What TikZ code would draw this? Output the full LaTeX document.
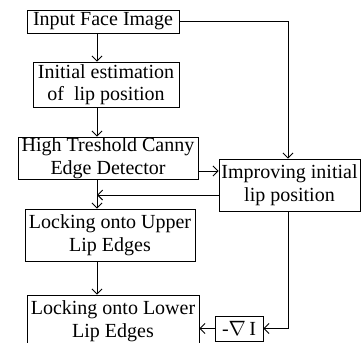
\documentclass[tikz,border=0pt]{standalone}
\usepackage{fontspec}
\setmainfont{Liberation Serif}
\usepackage{tikz}
\usetikzlibrary{ arrows.meta, calc, positioning }
\tikzset{
>={Straight Barb[length=5pt,width=10pt]}, % open v-shaped arrow heads
every node/.style={inner sep=0pt},
block/.style={draw, align=center, font=\fontsize{20}{22.5}\selectfont}, % the boxes of the flow
flow/.style={->}, % connectors between boxes
}

\begin{document}
\begin{tikzpicture}[x=1pt,y=-1pt,line width=0.9pt]%pixel-like units, y grows downwards
  \useasboundingbox (0,0) rectangle (362,343);

  \node[block, minimum width=152, minimum height=23] (input) at (103,21.5) {Input Face Image};
  \node[block, minimum width=146, minimum height=45] (init) at (106,84.5) {Initial estimation\\of\ \ lip position};
  \node[block, minimum width=180, minimum height=42] (canny) at (108,158) {High Treshold Canny\\Edge Detector};
  \node[block, minimum width=141, minimum height=52] (improve) at (289.5,185) {Improving initial\\lip position};
  \node[block, minimum width=170, minimum height=52] (upper) at (110,235) {Locking onto Upper\\Lip Edges};
  \node[block, minimum width=172, minimum height=52] (lower) at (113,321) {Locking onto Lower\\Lip Edges};
  \node[block, minimum width=48, minimum height=25] (grad) at (239,328.5) {-$\nabla$\,I};

  % columns and rows the connectors run along
  \coordinate (left) at (97,0);
  \coordinate (right) at (288,0);
  \coordinate (edges) at (0,171);
  \coordinate (back) at (0,195);

  \path[flow]
  (left |- input.south) edge (left |- init.north)
  (left |- init.south) edge (left |- canny.north)
  (left |- canny.south) edge (left |- upper.north)
  (left |- upper.south) edge (left |- lower.north)
  (canny.east |- edges) edge (improve.west |- edges)
  (improve.west |- back) edge (left |- back)
  (grad.west) edge (grad.west -| lower.east);

  \draw[flow] (input.east) -| (right |- improve.north);
  \draw[flow] (right |- improve.south) |- (grad.east);
\end{tikzpicture}
\end{document}
